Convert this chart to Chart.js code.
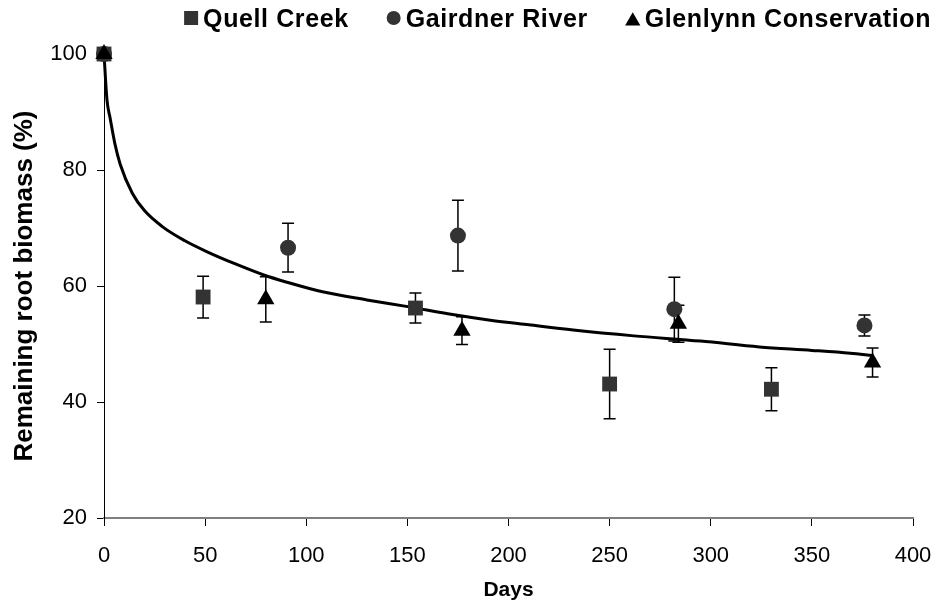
<!DOCTYPE html>
<html>
<head>
<meta charset="utf-8">
<script src="https://cdn.jsdelivr.net/npm/chart.js@4/dist/chart.umd.min.js"></script>
<style>
  html, body { margin: 0; padding: 0; background: #fff; }
  #wrap { width: 942px; height: 607px; }
</style>
</head>
<body>
<div id="wrap"><canvas id="c" width="942" height="607"></canvas></div>
<script>
// ---- data ----
const quellDays = [0, 49, 154, 250, 330];
const quellVals = [100, 58.1, 56.2, 43.1, 42.2];
const quellErr  = [0, 3.6, 2.6, 6.0, 3.7];

const gairdnerDays = [0, 91, 175, 282, 376];
const gairdnerVals = [100, 66.6, 68.7, 56.0, 53.2];
const gairdnerErr  = [0, 4.2, 6.1, 5.5, 1.8];

const glenDays = [0, 80, 177, 284, 380];
const glenVals = [100, 57.7, 52.3, 53.5, 46.8];
const glenErr  = [0, 3.9, 2.4, 3.2, 2.5];

const curveDays = [0, 1.5, 3, 5.4, 8, 14, 20, 29, 40, 51, 65, 79, 90, 108, 130, 151, 170, 191, 210, 232, 262, 295, 324, 350, 369, 380];
const curveVals = [100, 92, 89, 84.5, 81, 76, 73, 70.2, 67.8, 65.9, 63.8, 61.9, 60.7, 59, 57.6, 56.4, 55.2, 54.1, 53.3, 52.4, 51.4, 50.5, 49.5, 48.9, 48.4, 48.0];

const seriesNames = ["Quell Creek", "Gairdner River", "Glenlynn Conservation"];
const xTicks = [0, 50, 100, 150, 200, 250, 300, 350, 400];
const yTicks = [20, 40, 60, 80, 100];
const xTitle = "Days";
const yTitle = "Remaining root biomass (%)";

const FONT = '"Liberation Sans", Arial, sans-serif';
const pts = (xs, ys) => xs.map((x, i) => ({ x: x, y: ys[i] }));

const errorBars = {
  id: 'errorBars',
  beforeDatasetsDraw(chart) {
    const ctx = chart.ctx;
    const ys = chart.scales.y, xs = chart.scales.x;
    chart.data.datasets.forEach((ds) => {
      if (!ds.errors) return;
      ds.data.forEach((p, i) => {
        const e = ds.errors[i];
        if (!e) return;
        const px = xs.getPixelForValue(p.x);
        const top = ys.getPixelForValue(p.y + e);
        const bot = ys.getPixelForValue(p.y - e);
        ctx.save();
        ctx.strokeStyle = '#000';
        ctx.lineWidth = 1.5;
        ctx.beginPath();
        ctx.moveTo(px, top); ctx.lineTo(px, bot);
        ctx.moveTo(px - 6, top); ctx.lineTo(px + 6, top);
        ctx.moveTo(px - 6, bot); ctx.lineTo(px + 6, bot);
        ctx.stroke();
        ctx.restore();
      });
    });
  }
};

// legend drawn right-aligned along the top, markers taken from the datasets
const topLegend = {
  id: 'topLegend',
  afterDraw(chart) {
    const ctx = chart.ctx;
    const legendRadius = { rect: 9.9, circle: 7, triangle: 8.8 };
    ctx.save();
    ctx.font = 'bold 25px ' + FONT;
    if ('letterSpacing' in ctx) ctx.letterSpacing = '0.6px';
    ctx.textBaseline = 'alphabetic';
    let right = 931;
    const items = chart.data.datasets.slice(0, 3).map((ds, i) => ({ ds, i })).reverse();
    items.forEach(({ ds }) => {
      const w = ctx.measureText(ds.label).width;
      const textX = right - w;
      ctx.fillStyle = '#000';
      ctx.fillText(ds.label, textX, 27);
      const r = legendRadius[ds.pointStyle];
      const cx = textX - 5 - 7;
      ctx.fillStyle = ds.backgroundColor;
      Chart.helpers.drawPoint(ctx, { pointStyle: ds.pointStyle, radius: r, rotation: 0, borderWidth: 0 }, cx, ds.pointStyle === 'triangle' ? 21 : 18);
      right = cx - 7 - 38;
    });
    ctx.restore();
  }
};

Chart.defaults.font.family = FONT;
Chart.defaults.color = '#000';

new Chart(document.getElementById('c'), {
  type: 'scatter',
  data: {
    datasets: [
      { label: seriesNames[0], data: pts(quellDays, quellVals), errors: quellErr, clip: false,
        pointStyle: 'rect', pointRadius: 10.5, backgroundColor: '#333333', borderColor: '#333333', borderWidth: 0, order: 3 },
      { label: seriesNames[1], data: pts(gairdnerDays, gairdnerVals), errors: gairdnerErr, clip: false,
        pointStyle: 'circle', pointRadius: 8, backgroundColor: '#333333', borderColor: '#333333', borderWidth: 0, order: 2 },
      { label: seriesNames[2], data: pts(glenDays, glenVals), errors: glenErr, clip: false,
        pointStyle: 'triangle', pointRadius: 10, backgroundColor: '#000000', borderColor: '#000000', borderWidth: 0, order: 1 },
      { label: 'fit', type: 'line', data: pts(curveDays, curveVals), showLine: true, clip: false,
        borderColor: '#000', borderWidth: 3, pointRadius: 0, cubicInterpolationMode: 'monotone', fill: false, order: 4 }
    ]
  },
  options: {
    responsive: false,
    animation: false,
    layout: { padding: { left: 0, right: 29, top: 54, bottom: 0 } },
    plugins: {
      tooltip: { enabled: false },
      legend: { display: false }
    },
    scales: {
      x: {
        type: 'linear', min: 0, max: 400,
        afterBuildTicks: (s) => { s.ticks = xTicks.map(v => ({ value: v })); },
        afterFit: (s) => { s.height = 89; s.paddingLeft = 0; s.paddingRight = 0; },
        ticks: { font: { size: 22 }, color: '#000', padding: 17, maxRotation: 0 },
        grid: { display: true, drawOnChartArea: false, drawTicks: true, tickLength: 8, color: '#000', lineWidth: 1 },
        border: { display: true, color: '#808080', width: 2 },
        title: { display: true, text: xTitle, font: { size: 21, weight: 'bold' }, padding: { top: 2 } }
      },
      y: {
        type: 'linear', min: 20, max: 100,
        afterBuildTicks: (s) => { s.ticks = yTicks.map(v => ({ value: v })); },
        afterFit: (s) => { s.width = 104; },
        ticks: { font: { size: 22 }, color: '#000', padding: 10 },
        grid: { display: true, drawOnChartArea: false, drawTicks: true, tickLength: 7, color: '#000', lineWidth: 1 },
        border: { display: true, color: '#000', width: 1 },
        title: { display: true, text: yTitle, font: { size: 26, weight: 'bold' }, padding: { top: 9, bottom: 0 } }
      }
    }
  },
  plugins: [errorBars, topLegend]
});
</script>
</body>
</html>
